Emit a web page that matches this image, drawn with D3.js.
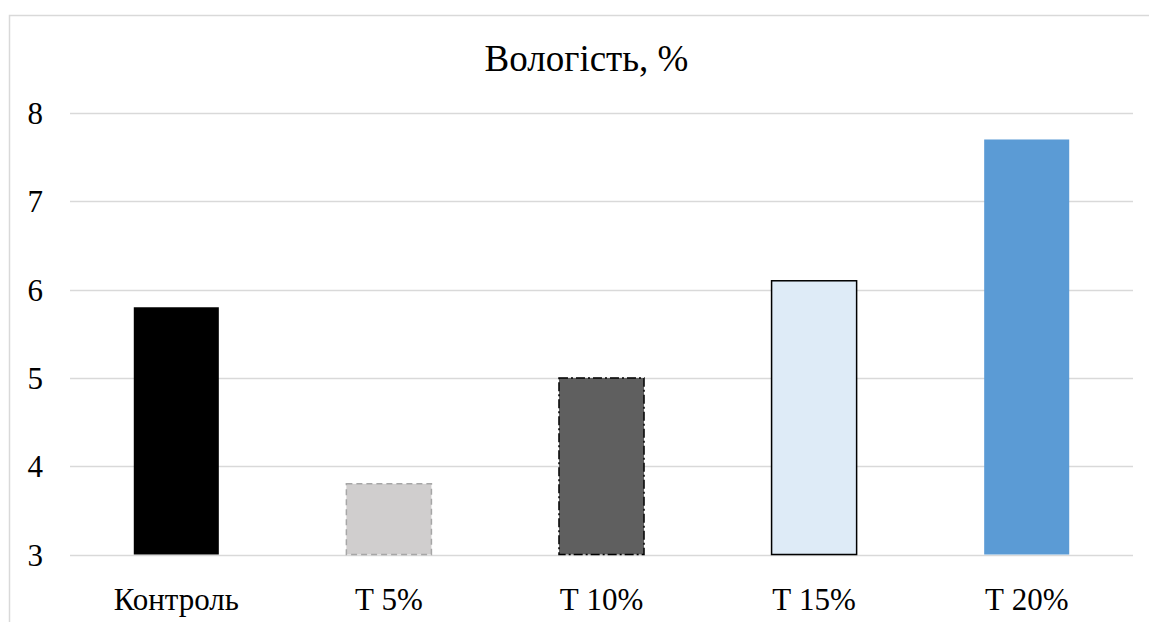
<!DOCTYPE html>
<html>
<head>
<meta charset="utf-8">
<script src="https://cdn.jsdelivr.net/npm/d3@7"></script>
<style>
  html, body { margin: 0; padding: 0; background: #fff; }
  svg { display: block; }
  text { font-family: "Liberation Serif", "Times New Roman", serif; fill: #000; }
</style>
</head>
<body>
<svg id="chart" width="1149" height="622"></svg>
<script>
// Moisture content by sample
const categories = ["Контроль", "Т 5%", "Т 10%", "Т 15%", "Т 20%"];
const moisture = [5.8, 3.8, 5.0, 6.1, 7.7];
const yTicks = [3, 4, 5, 6, 7, 8];
const title = "Вологість, %";

// Per-bar appearance
const fills = ["#000000", "#d0cece", "#5f5f5f", "#deebf7", "#5b9bd5"];
const strokes = ["none", "#a6a6a6", "#000000", "#000000", "none"];
const dashes = [null, "6,4", "9,3,2,3", null, null];

const W = 1149, H = 622;
const margin = { left: 70, right: 16, top: 113, bottom: 67 };
const serif = "'Liberation Serif', 'Times New Roman', serif";

const svg = d3.select("#chart");

// Chart area frame
svg.append("rect")
  .attr("x", 9.5).attr("y", 15.5)
  .attr("width", W + 20).attr("height", H + 20)
  .attr("fill", "none").attr("stroke", "#d9d9d9").attr("stroke-width", 1.5);

const x = d3.scaleBand()
  .domain(categories)
  .range([margin.left, W - margin.right])
  .paddingInner(0.6).paddingOuter(0.3);

const y = d3.scaleLinear()
  .domain([3, 8])
  .range([H - margin.bottom - 0.5, margin.top]);

// Horizontal gridlines
svg.append("g")
  .selectAll("line")
  .data(yTicks)
  .join("line")
  .attr("x1", margin.left).attr("x2", W - margin.right)
  .attr("y1", d => Math.round(y(d)) + 0.5).attr("y2", d => Math.round(y(d)) + 0.5)
  .attr("stroke", "#d9d9d9").attr("stroke-width", 1.5);

// Y axis tick labels
const yAxis = d3.axisLeft(y).tickValues(yTicks).tickFormat(d3.format("d")).tickSize(0).tickPadding(0);
const gy = svg.append("g")
  .attr("transform", `translate(${margin.left - 27},0)`)
  .call(yAxis)
  .attr("font-family", serif);
gy.select(".domain").remove();
gy.selectAll("text")
  .style("font-family", serif)
  .attr("font-size", 31)
  .attr("fill", "#000")
  .attr("dy", "0.34em");

// Bars
svg.append("g")
  .selectAll("rect")
  .data(categories)
  .join("rect")
  .attr("x", d => x(d))
  .attr("width", x.bandwidth())
  .attr("y", (d, i) => y(moisture[i]))
  .attr("height", (d, i) => y(3) - y(moisture[i]))
  .attr("fill", (d, i) => fills[i])
  .attr("stroke", (d, i) => strokes[i])
  .attr("stroke-width", 1.5)
  .attr("stroke-dasharray", (d, i) => dashes[i]);

// Category labels
const xAxis = d3.axisBottom(x).tickSize(0).tickPadding(0);
const gx = svg.append("g")
  .attr("transform", `translate(0,${H - 12})`)
  .call(xAxis)
  .attr("font-family", serif);
gx.select(".domain").remove();
gx.selectAll("text")
  .style("font-family", serif)
  .attr("font-size", 31)
  .attr("fill", "#000")
  .attr("dy", null)
  .attr("y", 0);

// Title
svg.append("text")
  .attr("x", (margin.left + W - margin.right) / 2 - 15)
  .attr("y", 71)
  .attr("text-anchor", "middle")
  .style("font-family", serif)
  .attr("font-size", 37)
  .text(title);
</script>
</body>
</html>
